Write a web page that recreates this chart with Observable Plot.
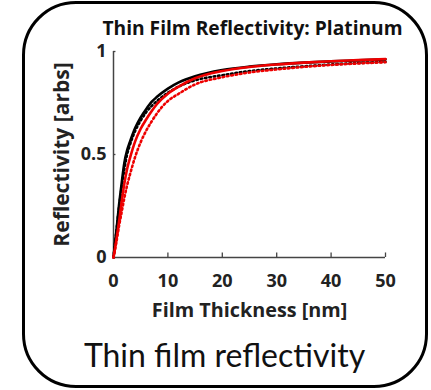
<!DOCTYPE html>
<html>
<head>
<meta charset="utf-8">
<script src="https://cdn.jsdelivr.net/npm/d3@7"></script>
<script src="https://cdn.jsdelivr.net/npm/@observablehq/plot@0.6"></script>
<style>
  body { margin: 0; background: white; }
  #wrap { position: relative; width: 431px; height: 390px; overflow: hidden; }
  #box { position: absolute; left: 22px; top: 1px; width: 400px; height: 381px;
         border: 3px solid #000; border-radius: 54px; pointer-events: none; }
  #wrap svg { position: absolute; left: 0; top: 0; }
</style>
</head>
<body>
<div id="wrap"><div id="box"></div></div>
<script>
const title = "Thin Film Reflectivity: Platinum";
const xLabel = "Film Thickness [nm]";
const yLabel = "Reflectivity [arbs]";
const caption = "Thin film reflectivity";

const thickness = [0, 0.5, 1, 1.5, 2, 2.5, 3, 4, 5, 6, 7, 8, 10, 12, 15, 20, 25, 30, 35, 40, 45, 50];
const blackSolid  = [0, 0.12, 0.25, 0.36, 0.46, 0.52, 0.56, 0.63, 0.68, 0.72, 0.755, 0.78, 0.82, 0.85, 0.88, 0.91, 0.927, 0.938, 0.946, 0.952, 0.957, 0.962];
const blackDotted = [0, 0.12, 0.24, 0.34, 0.43, 0.50, 0.545, 0.615, 0.665, 0.705, 0.735, 0.76, 0.80, 0.83, 0.86, 0.885, 0.905, 0.918, 0.928, 0.937, 0.944, 0.95];
const redSolid    = [0, 0.08, 0.17, 0.27, 0.36, 0.43, 0.48, 0.565, 0.625, 0.67, 0.71, 0.745, 0.795, 0.83, 0.87, 0.905, 0.925, 0.937, 0.946, 0.953, 0.958, 0.963];
const redDotted   = [0, 0.07, 0.15, 0.22, 0.29, 0.35, 0.40, 0.49, 0.56, 0.615, 0.66, 0.70, 0.76, 0.795, 0.84, 0.875, 0.898, 0.913, 0.925, 0.935, 0.942, 0.948];

const xTicks = [0, 10, 20, 30, 40, 50];
const yTicks = [0, 0.5, 1];

const toRows = (vals) => thickness.map((t, i) => ({t, r: vals[i]}));

const boldFont = "'Open Sans', Lato, sans-serif";
const capFont = "Lato, 'Open Sans', sans-serif";

const plot = Plot.plot({
  width: 431,
  height: 390,
  marginLeft: 113,
  marginRight: 46,
  marginTop: 51,
  marginBottom: 133,
  style: {fontFamily: boldFont, fontSize: "18px", fontWeight: "bold", color: "#222", background: "none"},
  x: {domain: [0, 50], ticks: xTicks, label: null},
  y: {domain: [0, 1], ticks: yTicks, label: null},
  marks: [
    Plot.axisX({ticks: xTicks, tickSize: 0, tickPadding: 17, label: null, fontSize: 18, fontWeight: "bold"}),
    Plot.axisY({ticks: yTicks, tickSize: 0, tickPadding: 7, label: null, fontSize: 18, fontWeight: "bold",
      tickFormat: d => d === 0.5 ? "0.5" : String(d)}),
    Plot.ruleY([0], {stroke: "#444", strokeWidth: 1.5}),
    Plot.ruleX([0], {stroke: "#444", strokeWidth: 1.5}),
    Plot.ruleX(xTicks, {x: d => d, y1: 0, y2: 0.022, stroke: "#444", strokeWidth: 1.3}),
    Plot.ruleY(yTicks, {y: d => d, x1: 0, x2: 0.45, stroke: "#444", strokeWidth: 1.3}),
    Plot.line(toRows(blackSolid), {x: "t", y: "r", stroke: "#000", strokeWidth: 2.6, curve: "monotone-x"}),
    Plot.line(toRows(blackDotted), {x: "t", y: "r", stroke: "#000", strokeWidth: 2.6, strokeDasharray: "1.6 2.8", curve: "monotone-x"}),
    Plot.line(toRows(redDotted), {x: "t", y: "r", stroke: "#ee0000", strokeWidth: 2.6, strokeDasharray: "1.6 2.8", curve: "monotone-x"}),
    Plot.line(toRows(redSolid), {x: "t", y: "r", stroke: "#ee0000", strokeWidth: 2.6, curve: "monotone-x"}),
    Plot.text([title], {text: d => d, frameAnchor: "top", textAnchor: "middle", lineAnchor: "middle", dx: 3, dy: -23, fontSize: 19.2, fontWeight: "bold", fill: "#111", fontFamily: boldFont}),
    Plot.text([yLabel], {text: d => d, frameAnchor: "left", textAnchor: "middle", lineAnchor: "middle", dx: -51, rotate: -90, fontSize: 21, fontWeight: "bold", fill: "#222", fontFamily: boldFont}),
    Plot.text([xLabel], {text: d => d, frameAnchor: "bottom", textAnchor: "middle", lineAnchor: "middle", dy: 53, fontSize: 19.8, fontWeight: "bold", fill: "#222", fontFamily: boldFont}),
    Plot.text([caption], {text: d => d, frameAnchor: "bottom", textAnchor: "middle", lineAnchor: "middle", dx: -25, dy: 99, fontSize: 32, fontWeight: "normal", fill: "#111", fontFamily: capFont})
  ]
});
document.getElementById("wrap").prepend(plot);
</script>
</body>
</html>
